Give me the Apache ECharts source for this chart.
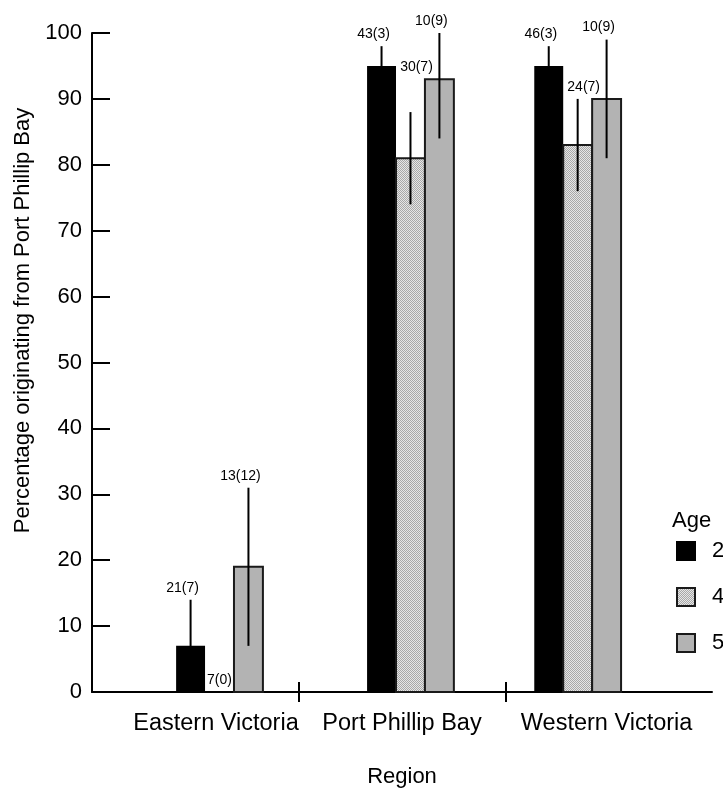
<!DOCTYPE html>
<html>
<head>
<meta charset="utf-8">
<script src="https://cdn.jsdelivr.net/npm/echarts@6/dist/echarts.min.js"></script>
<style>
  html, body { margin: 0; padding: 0; background: #fff; }
  #chart { width: 723px; height: 790px; }
</style>
</head>
<body>
<div id="chart"></div>
<script>
// ---- data ----
const regions = ['Eastern Victoria', 'Port Phillip Bay', 'Western Victoria'];
const ageGroups = ['2', '4', '5'];

// mean percentage originating from Port Phillip Bay, per region
const age2Pct = [7, 95, 95];
const age4Pct = [0, 81, 83];
const age5Pct = [19, 93, 90];

// standard errors (error bar half-length)
const age2SE = [7, 3, 3];
const age4SE = [0, 7, 7];
const age5SE = [12, 9, 9];

// sample sizes
const age2N = [21, 43, 46];
const age4N = [7, 30, 24];
const age5N = [13, 10, 10];

const yTicks = [0, 10, 20, 30, 40, 50, 60, 70, 80, 90, 100];

// ---- layout ----
const FONT = '"Liberation Sans", Arial, Helvetica, sans-serif';
const groupCentre = [0.617, 1.541, 2.350];   // middle bar of each region on the x scale
const barStep = 0.14;                        // bar width / spacing in x units
const regionLabelAt = [0.6, 1.5, 2.49];      // where the region names sit
const regionDividers = [1, 2];

// stippled fill for the middle age group
function makeStipple() {
  const c = document.createElement('canvas');
  c.width = 2; c.height = 2;
  const g = c.getContext('2d');
  g.fillStyle = '#e6e6e6'; g.fillRect(0, 0, 2, 2);
  g.fillStyle = '#a8a8a8'; g.fillRect(0, 0, 1, 1); g.fillRect(1, 1, 1, 1);
  return c;
}
const stipple = { image: makeStipple(), repeat: 'repeat' };

const measureCtx = document.createElement('canvas').getContext('2d');
measureCtx.font = '14px ' + FONT;
function textWidth(t) { return measureCtx.measureText(t).width; }

const styles = [
  { fill: '#000000', stroke: null, lw: 0 },
  { fill: stipple, stroke: '#1a1a1a', lw: 2 },
  { fill: '#b3b3b3', stroke: '#1a1a1a', lw: 2 }
];

function buildSeries(k, name, pct, se, n) {
  const st = styles[k];
  return {
    type: 'custom',
    name: name,
    xAxisIndex: 0,
    yAxisIndex: 0,
    itemStyle: { color: st.fill, borderColor: st.stroke || '#000', borderWidth: st.lw || 0 },
    encode: { x: 0, y: 1 },
    data: pct.map((v, i) => [groupCentre[i] + (k - 1) * barStep, v, se[i], n[i], i]),
    renderItem: function (params, api) {
      const x = api.value(0), v = api.value(1), e = api.value(2), cnt = api.value(3), gi = api.value(4);
      const half = barStep / 2;
      const base = api.coord([x - half, 0]);
      const tip = api.coord([x + half, v]);
      const lo = Math.max(0, v - e), hi = Math.min(100, v + e);
      const cx = api.coord([x, 0])[0];
      const children = [];
      if (v > 0) {
        children.push({
          type: 'rect',
          shape: { x: base[0], y: tip[1], width: tip[0] - base[0], height: base[1] - tip[1] },
          style: { fill: st.fill, stroke: st.stroke, lineWidth: st.lw }
        });
      }
      if (e > 0) {
        children.push({
          type: 'line',
          shape: { x1: cx, y1: api.coord([x, lo])[1], x2: cx, y2: api.coord([x, hi])[1] },
          style: { stroke: '#000', lineWidth: 2 }
        });
      }
      // "n(SE)" label above the error bar; the middle bar's label is raised
      // above its right-hand neighbour when it would otherwise run into it
      const label = cnt + '(' + e + ')';
      let dx = -8, top = hi;
      if (k === 1) {
        dx = 0;
        const nextLeft = api.coord([x + half, 0])[0];
        if (cx + textWidth(label) / 2 > nextLeft && age5Pct[gi] >= top) {
          top = age5Pct[gi];
          dx = 6;
        }
      }
      children.push({
        type: 'text',
        x: cx + dx,
        y: api.coord([x, top])[1] - 5,
        style: {
          text: label, fill: '#000', font: '14px ' + FONT,
          align: 'center', verticalAlign: 'bottom'
        }
      });
      return { type: 'group', children: children };
    }
  };
}

const chart = echarts.init(document.getElementById('chart'), null, { renderer: 'canvas' });

const axisLine = { show: true, lineStyle: { color: '#000', width: 2 } };
const gridBox = { left: 92, right: 11, top: 33, bottom: 98, containLabel: false, outerBoundsMode: 'none' };

chart.setOption({
  backgroundColor: '#fff',
  animation: false,
  title: {
    text: 'Age', left: 667, top: 505,
    textStyle: { fontSize: 22, fontWeight: 'normal', color: '#000', fontFamily: FONT }
  },
  legend: {
    orient: 'vertical', left: 671, top: 535,
    itemWidth: 18, itemHeight: 18, itemGap: 24,
    icon: 'rect',
    textStyle: { fontSize: 22, color: '#000', fontFamily: FONT, lineHeight: 18, padding: [0, 0, 0, 12] },
    data: [
      { name: ageGroups[0], itemStyle: { color: '#000', borderColor: '#000', borderWidth: 2 } },
      { name: ageGroups[1], itemStyle: { color: stipple, borderColor: '#1a1a1a', borderWidth: 2 } },
      { name: ageGroups[2], itemStyle: { color: '#b3b3b3', borderColor: '#1a1a1a', borderWidth: 2 } }
    ]
  },
  grid: [gridBox, Object.assign({}, gridBox)],
  xAxis: [
    {
      type: 'value', gridIndex: 0, min: 0, max: 3, position: 'bottom',
      name: 'Region', nameLocation: 'middle', nameGap: 74,
      nameTextStyle: { fontSize: 22, color: '#000', fontFamily: FONT },
      axisLine: axisLine,
      axisTick: { show: true, inside: true, length: 10, customValues: regionDividers, lineStyle: { color: '#000', width: 2 } },
      axisLabel: {
        show: true, margin: 20, fontSize: 23.5, color: '#000', fontFamily: FONT,
        customValues: regionLabelAt,
        formatter: function (val) {
          let best = 0;
          regionLabelAt.forEach((p, i) => { if (Math.abs(p - val) < Math.abs(regionLabelAt[best] - val)) best = i; });
          return regions[best];
        }
      },
      splitLine: { show: false }
    },
    {
      type: 'value', gridIndex: 1, min: 0, max: 3, position: 'bottom',
      axisLine: { show: false },
      axisTick: { show: true, inside: false, length: 10, customValues: regionDividers, lineStyle: { color: '#000', width: 2 } },
      axisLabel: { show: false },
      splitLine: { show: false }
    }
  ],
  yAxis: [
    {
      type: 'value', gridIndex: 0, min: yTicks[0], max: yTicks[yTicks.length - 1], interval: 10,
      name: 'Percentage originating from Port Phillip Bay',
      nameLocation: 'middle', nameGap: 56,
      nameTextStyle: { fontSize: 22, color: '#000', fontFamily: FONT, padding: [0, 0, 0, 84] },
      axisLine: axisLine,
      axisTick: { show: true, inside: true, length: 18, lineStyle: { color: '#000', width: 2 } },
      axisLabel: { show: true, margin: 10, fontSize: 22, color: '#000', fontFamily: FONT },
      splitLine: { show: false }
    },
    {
      type: 'value', gridIndex: 1, min: 0, max: 100, show: false, splitLine: { show: false }
    }
  ],
  series: [
    buildSeries(0, ageGroups[0], age2Pct, age2SE, age2N),
    buildSeries(1, ageGroups[1], age4Pct, age4SE, age4N),
    buildSeries(2, ageGroups[2], age5Pct, age5SE, age5N)
  ]
});
</script>
</body>
</html>
